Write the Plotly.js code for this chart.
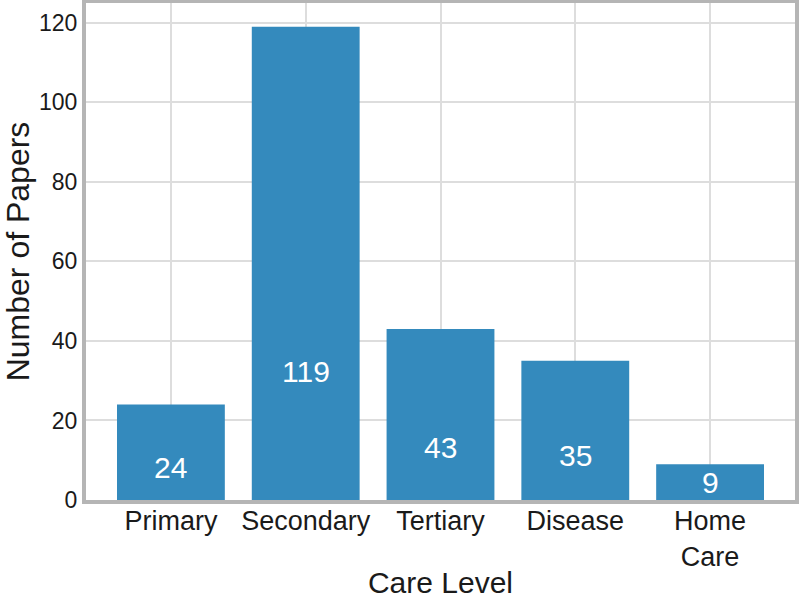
<!DOCTYPE html>
<html>
<head>
<meta charset="utf-8">
<script src="https://cdn.plot.ly/plotly-3.0.1.min.js"></script>
<style>
  html, body { margin: 0; padding: 0; background: #fff; }
  #chart { width: 800px; height: 599px; }
</style>
</head>
<body>
<div id="chart"></div>
<script>
const care_levels = ['Primary', 'Secondary', 'Tertiary', 'Disease', 'Home<br>Care'];
const paper_counts = [24, 119, 43, 35, 9];
const y_ticks = [0, 20, 40, 60, 80, 100, 120];

const build_care_level_chart = () => {
    const chart = document.querySelector('#chart');
    const font_family = '"Liberation Sans", Arial, Helvetica, sans-serif';

    var data = [{
        x: care_levels,
        y: paper_counts,
        type: 'bar',
        marker: {color: '#348abd'},
        hoverinfo: 'x+y'
    }];

    // value labels sit low inside each bar, as in the original figure
    var annotations = care_levels.map((c, i) => ({
        x: c,
        y: paper_counts[i] * 0.254 + 2.2,
        text: String(paper_counts[i]),
        showarrow: false,
        xanchor: 'center',
        yanchor: 'middle',
        font: {family: font_family, size: 30, color: '#ffffff'}
    }));

    var layout = {
        width: 800,
        height: 599,
        margin: {l: 86, r: 5, t: 3, b: 99},
        paper_bgcolor: '#ffffff',
        plot_bgcolor: '#ffffff',
        font: {family: font_family, color: '#1a1a1a'},
        bargap: 0.2,
        showlegend: false,
        xaxis: {
            range: [-0.63, 4.63],
            showgrid: true,
            gridcolor: '#dddddd',
            gridwidth: 1.5,
            showline: true,
            linecolor: '#b5b5b5',
            linewidth: 4,
            mirror: true,
            ticks: '',
            ticklabelstandoff: -6,
            tickfont: {size: 27, color: '#1a1a1a'},
            title: {text: 'Care Level', font: {size: 30, color: '#1a1a1a'}, standoff: 12}
        },
        yaxis: {
            range: [0, 124.95],
            tickvals: y_ticks,
            showgrid: true,
            gridcolor: '#dddddd',
            gridwidth: 1.5,
            zeroline: false,
            showline: true,
            linecolor: '#b5b5b5',
            linewidth: 4,
            mirror: true,
            ticks: '',
            tickfont: {size: 23, color: '#1a1a1a'},
            title: {text: 'Number of Papers', font: {size: 32, color: '#1a1a1a'}, standoff: 9}
        },
        annotations: annotations
    };

    Plotly.newPlot(chart, data, layout, {displayModeBar: false});
}

document.addEventListener('DOMContentLoaded', () => {
    build_care_level_chart();
})
</script>
</body>
</html>
